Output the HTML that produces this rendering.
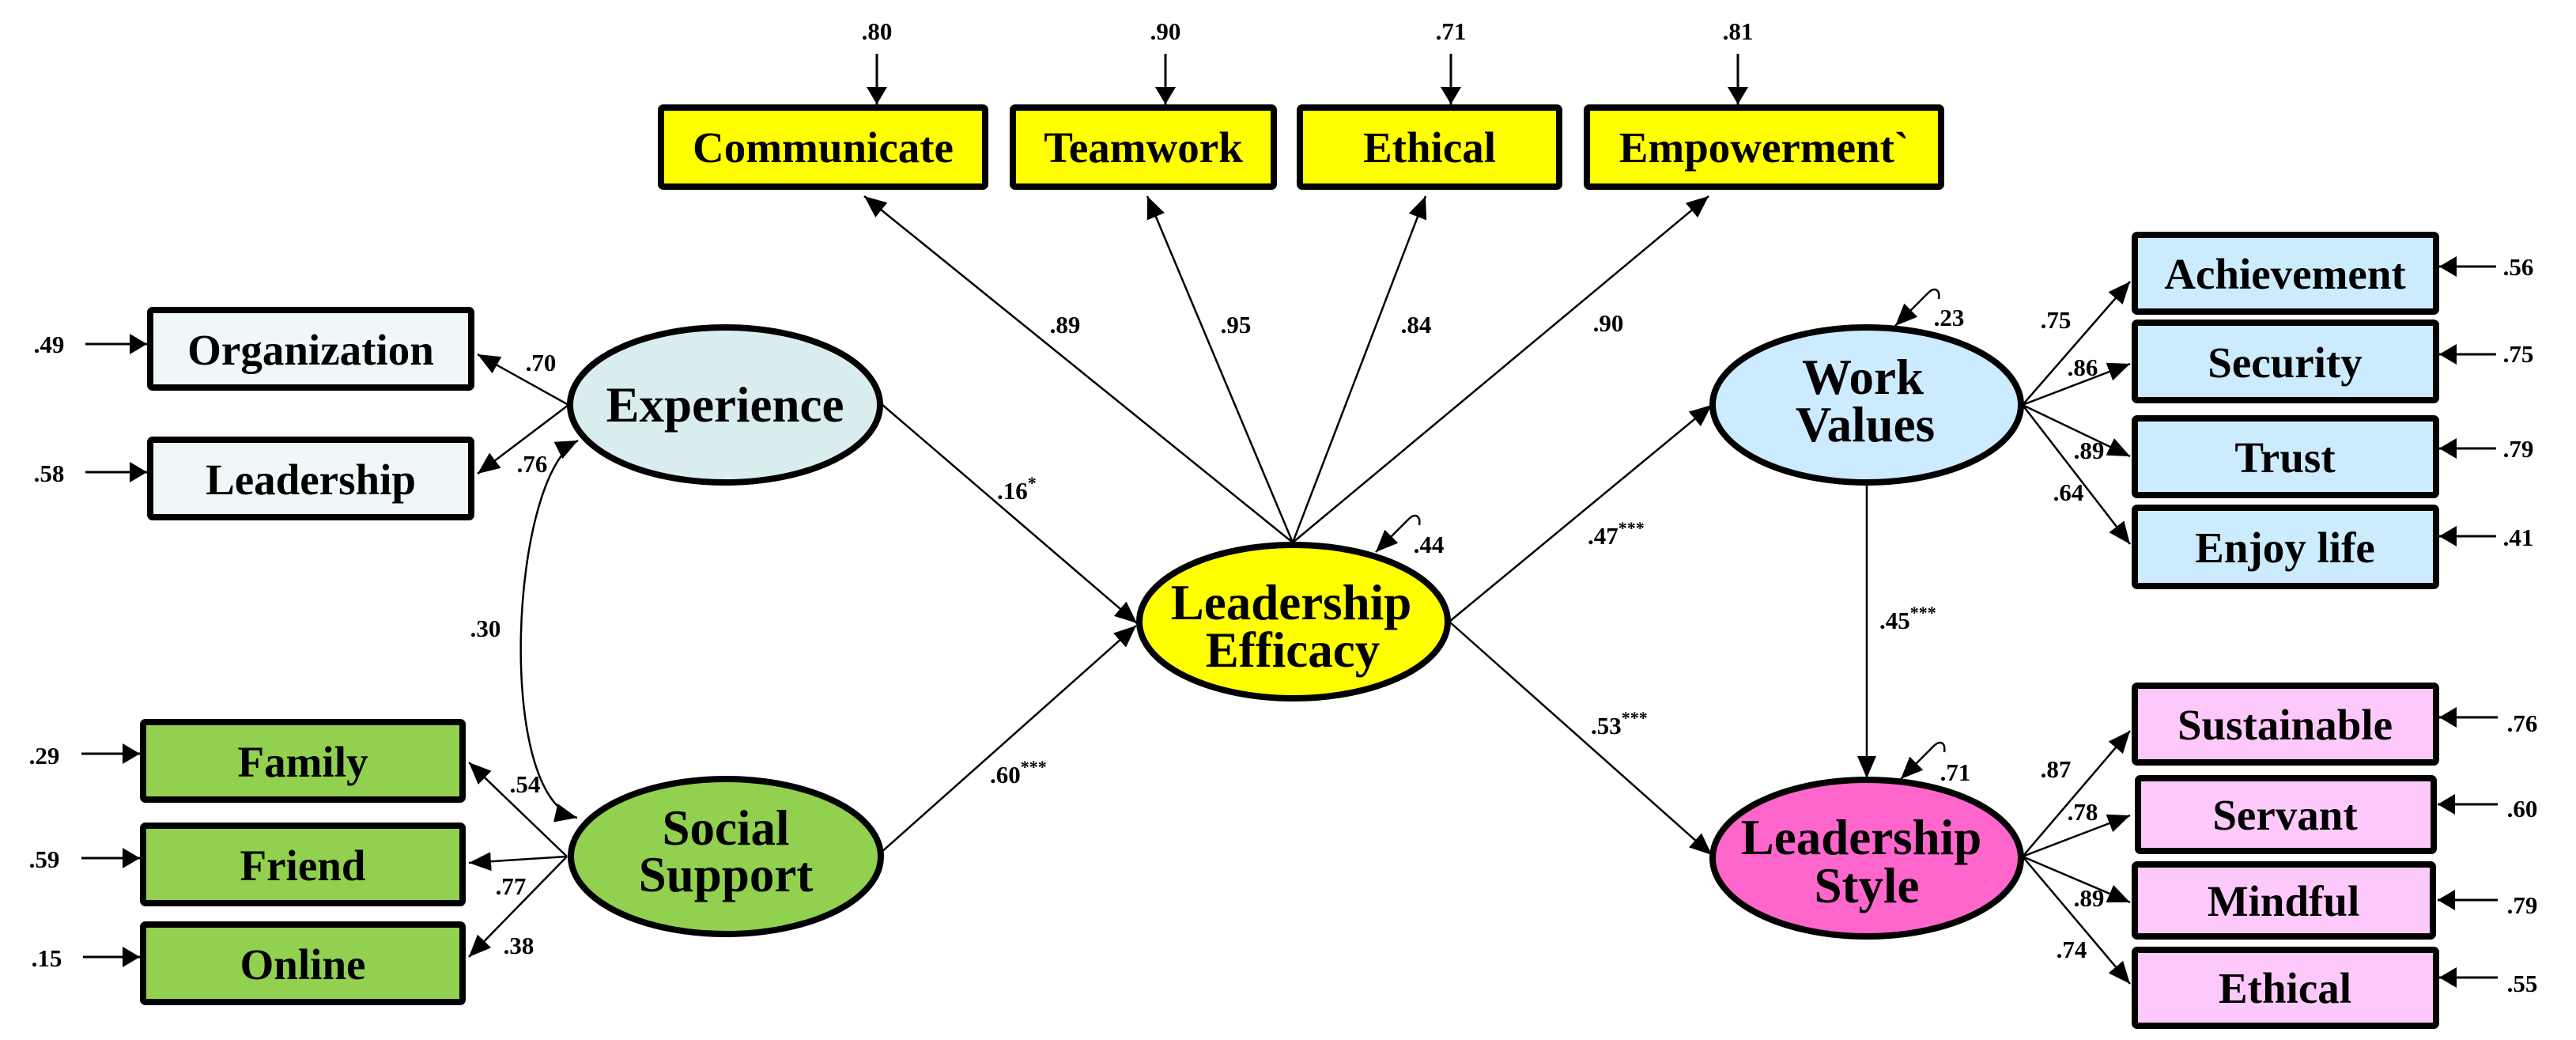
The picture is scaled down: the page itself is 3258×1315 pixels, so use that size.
<!DOCTYPE html>
<html>
<head>
<meta charset="utf-8">
<style>
html,body{margin:0;padding:0;background:#fff;}
svg{display:block;}
text{font-family:"Liberation Serif","Times New Roman",serif;font-weight:bold;fill:#000;}
.bx{font-size:55px;text-anchor:middle;}
.el{font-size:63px;text-anchor:middle;}
.lb{font-size:31px;text-anchor:middle;}
.ls{font-size:31px;text-anchor:start;}
.ln{stroke:#000;stroke-width:2.5;fill:none;}
.er{stroke:#000;stroke-width:3;fill:none;}
.box{stroke:#000;stroke-width:8;}
.ell{stroke:#000;stroke-width:8;}
</style>
</head>
<body>
<svg width="3258" height="1315" viewBox="0 0 3258 1315" xmlns="http://www.w3.org/2000/svg">
<defs>
<marker id="a" markerUnits="userSpaceOnUse" markerWidth="30" markerHeight="24" refX="28" refY="12" orient="auto">
<path d="M0,0 L28,12 L0,24 z" fill="#000"/>
</marker>
<marker id="as" markerUnits="userSpaceOnUse" markerWidth="30" markerHeight="24" refX="28" refY="12" orient="auto-start-reverse">
<path d="M0,0 L28,12 L0,24 z" fill="#000"/>
</marker>
<marker id="b" markerUnits="userSpaceOnUse" markerWidth="24" markerHeight="26" refX="22" refY="13" orient="auto">
<path d="M0,0 L22,13 L0,26 z" fill="#000"/>
</marker>
</defs>
<rect x="0" y="0" width="3258" height="1315" fill="#fff"/>

<!-- ===== connectors ===== -->
<path class="ln" d="M719 512 L604 448" marker-end="url(#a)"/>
<path class="ln" d="M719 512 L604 599" marker-end="url(#a)"/>
<path class="ln" d="M717 1083 L593 964" marker-end="url(#a)"/>
<path class="ln" d="M717 1083 L593 1091" marker-end="url(#a)"/>
<path class="ln" d="M717 1083 L593 1210" marker-end="url(#a)"/>
<path class="ln" d="M731 557 C 645 600, 625 1010, 730 1034" marker-start="url(#as)" marker-end="url(#a)"/>
<path class="ln" d="M1115 511 L1438 788" marker-end="url(#a)"/>
<path class="ln" d="M1113 1079 L1437 791" marker-end="url(#a)"/>
<path class="ln" d="M1635 686 L1093 248" marker-end="url(#a)"/>
<path class="ln" d="M1635 686 L1451 248" marker-end="url(#a)"/>
<path class="ln" d="M1635 686 L1803 248" marker-end="url(#a)"/>
<path class="ln" d="M1635 686 L2161 248" marker-end="url(#a)"/>
<path class="ln" d="M1833 786 L2165 512" marker-end="url(#a)"/>
<path class="ln" d="M1833 786 L2165 1081" marker-end="url(#a)"/>
<path class="ln" d="M2361 613 L2361 984" marker-end="url(#a)"/>
<path class="ln" d="M2558 512 L2694 356" marker-end="url(#a)"/>
<path class="ln" d="M2558 512 L2694 460" marker-end="url(#a)"/>
<path class="ln" d="M2558 512 L2694 577" marker-end="url(#a)"/>
<path class="ln" d="M2558 512 L2694 688" marker-end="url(#a)"/>
<path class="ln" d="M2558 1083 L2694 924" marker-end="url(#a)"/>
<path class="ln" d="M2558 1083 L2694 1031" marker-end="url(#a)"/>
<path class="ln" d="M2558 1083 L2694 1141" marker-end="url(#a)"/>
<path class="ln" d="M2558 1083 L2694 1244" marker-end="url(#a)"/>
<path class="ln" d="M1795 664 C 1797 651, 1789 649, 1782 656 L 1740 698" marker-end="url(#a)"/>
<path class="ln" d="M2452 378 C 2454 365, 2446 363, 2439 370 L 2397 412" marker-end="url(#a)"/>
<path class="ln" d="M2459 951 C 2461 938, 2453 936, 2446 943 L 2404 985" marker-end="url(#a)"/>

<path class="er" d="M108 435 L186 435" marker-end="url(#b)"/>
<path class="er" d="M108 597 L186 597" marker-end="url(#b)"/>
<path class="er" d="M103 953 L177 953" marker-end="url(#b)"/>
<path class="er" d="M103 1085 L177 1085" marker-end="url(#b)"/>
<path class="er" d="M105 1210 L177 1210" marker-end="url(#b)"/>
<path class="er" d="M1109 68 L1109 132" marker-end="url(#b)"/>
<path class="er" d="M1474 68 L1474 132" marker-end="url(#b)"/>
<path class="er" d="M1835 68 L1835 132" marker-end="url(#b)"/>
<path class="er" d="M2198 68 L2198 132" marker-end="url(#b)"/>
<path class="er" d="M3157 337 L3085 337" marker-end="url(#b)"/>
<path class="er" d="M3157 448 L3085 448" marker-end="url(#b)"/>
<path class="er" d="M3157 567 L3085 567" marker-end="url(#b)"/>
<path class="er" d="M3157 678 L3085 678" marker-end="url(#b)"/>
<path class="er" d="M3159 907 L3085 907" marker-end="url(#b)"/>
<path class="er" d="M3159 1017 L3083 1017" marker-end="url(#b)"/>
<path class="er" d="M3159 1138 L3083 1138" marker-end="url(#b)"/>
<path class="er" d="M3159 1236 L3085 1236" marker-end="url(#b)"/>

<!-- ===== boxes ===== -->
<rect class="box" x="190" y="392" width="406" height="98" rx="3" fill="#EFF7F8"/>
<rect class="box" x="190" y="556" width="406" height="98" rx="3" fill="#EFF7F8"/>
<rect class="box" x="181" y="913" width="404" height="98" rx="3" fill="#92D050"/>
<rect class="box" x="181" y="1044" width="404" height="98" rx="3" fill="#92D050"/>
<rect class="box" x="181" y="1169" width="404" height="98" rx="3" fill="#92D050"/>

<rect class="box" x="836" y="136" width="410" height="100" rx="3" fill="#FFFF00"/>
<rect class="box" x="1281" y="136" width="330" height="100" rx="3" fill="#FFFF00"/>
<rect class="box" x="1644" y="136" width="328" height="100" rx="3" fill="#FFFF00"/>
<rect class="box" x="2007" y="136" width="448" height="100" rx="3" fill="#FFFF00"/>

<rect class="box" x="2700" y="297" width="381" height="97" rx="3" fill="#CCEBFC"/>
<rect class="box" x="2700" y="408" width="381" height="98" rx="3" fill="#CCEBFC"/>
<rect class="box" x="2700" y="529" width="381" height="97" rx="3" fill="#CCEBFC"/>
<rect class="box" x="2700" y="642" width="381" height="99" rx="3" fill="#CCEBFC"/>

<rect class="box" x="2700" y="867" width="381" height="97" rx="3" fill="#FDC9FB"/>
<rect class="box" x="2704" y="984" width="374" height="92" rx="3" fill="#FDC9FB"/>
<rect class="box" x="2700" y="1093" width="377" height="91" rx="3" fill="#FDC9FB"/>
<rect class="box" x="2700" y="1201" width="381" height="96" rx="3" fill="#FDC9FB"/>

<!-- ===== ellipses ===== -->
<ellipse class="ell" cx="917" cy="512" rx="196" ry="98" fill="#DAEDEE"/>
<ellipse class="ell" cx="918" cy="1083" rx="196" ry="98" fill="#92D050"/>
<ellipse class="ell" cx="1636" cy="786" rx="195" ry="97" fill="#FFFF00"/>
<ellipse class="ell" cx="2361" cy="512" rx="195" ry="98" fill="#CCEBFF"/>
<ellipse class="ell" cx="2361" cy="1085" rx="195" ry="99" fill="#FF66CC"/>

<!-- ===== box text ===== -->
<text class="bx" x="393" y="461">Organization</text>
<text class="bx" x="393" y="625">Leadership</text>
<text class="bx" x="383" y="982">Family</text>
<text class="bx" x="383" y="1113">Friend</text>
<text class="bx" x="383" y="1238">Online</text>

<text class="bx" x="1041" y="205">Communicate</text>
<text class="bx" x="1446" y="205">Teamwork</text>
<text class="bx" x="1808" y="205">Ethical</text>
<text class="bx" x="2231" y="205">Empowerment`</text>

<text class="bx" x="2890" y="365">Achievement</text>
<text class="bx" x="2890" y="477">Security</text>
<text class="bx" x="2890" y="597">Trust</text>
<text class="bx" x="2890" y="711">Enjoy life</text>

<text class="bx" x="2890" y="935">Sustainable</text>
<text class="bx" x="2890" y="1049">Servant</text>
<text class="bx" x="2888" y="1158">Mindful</text>
<text class="bx" x="2890" y="1268">Ethical</text>

<!-- ===== ellipse text ===== -->
<text class="el" x="917" y="533">Experience</text>
<text class="el" x="918" y="1068">Social</text>
<text class="el" x="918" y="1127">Support</text>
<text class="el" x="1633" y="783">Leadership</text>
<text class="el" x="1635" y="843">Efficacy</text>
<text class="el" x="2356" y="498">Work</text>
<text class="el" x="2359" y="558">Values</text>
<text class="el" x="2354" y="1080">Leadership</text>
<text class="el" x="2361" y="1141">Style</text>

<!-- ===== labels ===== -->
<text class="lb" x="62" y="446">.49</text>
<text class="lb" x="62" y="609">.58</text>
<text class="lb" x="56" y="966">.29</text>
<text class="lb" x="56" y="1097">.59</text>
<text class="lb" x="59" y="1222">.15</text>

<text class="lb" x="684" y="469">.70</text>
<text class="lb" x="673" y="597">.76</text>
<text class="lb" x="614" y="805">.30</text>
<text class="lb" x="664" y="1002">.54</text>
<text class="lb" x="646" y="1131">.77</text>
<text class="lb" x="656" y="1206">.38</text>

<text class="lb" x="1109" y="50">.80</text>
<text class="lb" x="1474" y="50">.90</text>
<text class="lb" x="1835" y="50">.71</text>
<text class="lb" x="2198" y="50">.81</text>

<text class="lb" x="1347" y="421">.89</text>
<text class="lb" x="1563" y="421">.95</text>
<text class="lb" x="1791" y="421">.84</text>
<text class="lb" x="2034" y="419">.90</text>

<text class="ls" x="1261" y="631">.16<tspan font-size="22" dy="-13">*</tspan></text>
<text class="ls" x="1252" y="990">.60<tspan font-size="22" dy="-13">***</tspan></text>
<text class="ls" x="2008" y="688">.47<tspan font-size="22" dy="-13">***</tspan></text>
<text class="ls" x="2012" y="928">.53<tspan font-size="22" dy="-13">***</tspan></text>
<text class="ls" x="2377" y="795">.45<tspan font-size="22" dy="-13">***</tspan></text>

<text class="lb" x="1807" y="699">.44</text>
<text class="lb" x="2465" y="412">.23</text>
<text class="lb" x="2473" y="987">.71</text>

<text class="lb" x="2600" y="415">.75</text>
<text class="lb" x="2634" y="475">.86</text>
<text class="lb" x="2642" y="580">.89</text>
<text class="lb" x="2616" y="633">.64</text>

<text class="lb" x="2600" y="983">.87</text>
<text class="lb" x="2634" y="1037">.78</text>
<text class="lb" x="2642" y="1146">.89</text>
<text class="lb" x="2620" y="1211">.74</text>

<text class="lb" x="3185" y="348">.56</text>
<text class="lb" x="3185" y="458">.75</text>
<text class="lb" x="3185" y="578">.79</text>
<text class="lb" x="3185" y="690">.41</text>
<text class="lb" x="3190" y="925">.76</text>
<text class="lb" x="3190" y="1033">.60</text>
<text class="lb" x="3190" y="1155">.79</text>
<text class="lb" x="3190" y="1254">.55</text>
</svg>
</body>
</html>
